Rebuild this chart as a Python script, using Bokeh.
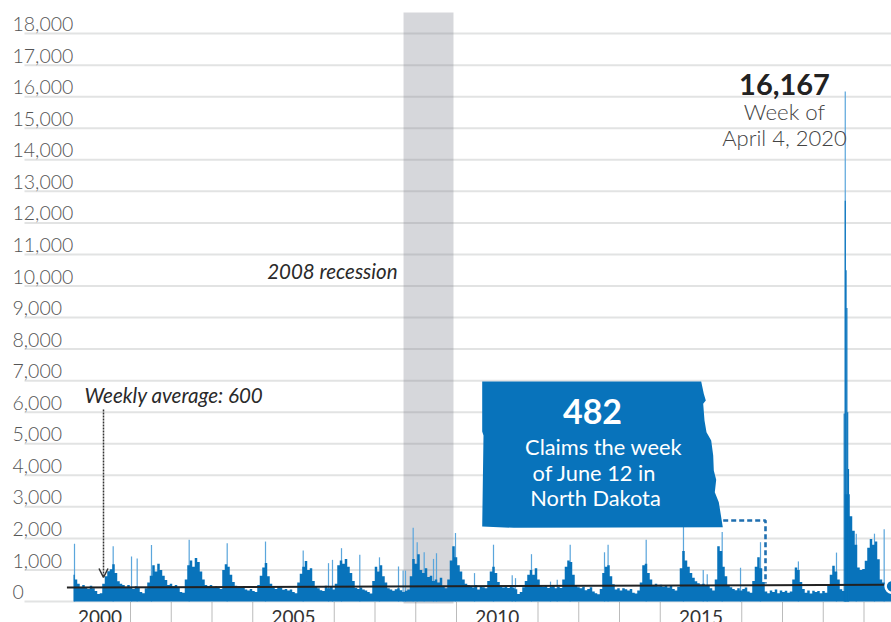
from bokeh.plotting import figure
from bokeh.models import LinearAxis, FixedTicker, Arrow, OpenHead, ColumnDataSource
from bokeh.core.properties import value
from bokeh.embed import file_html
from bokeh.resources import INLINE

# ---- data ----
y_ticks = list(range(0, 19000, 1000))
y_tick_labels = [f"{v:,}" for v in y_ticks]
year_label_positions = [2000.25, 2005, 2010, 2015]
year_labels = ["2000", "2005", "2010", "2015"]
minor_years = [2001, 2002, 2003, 2004, 2006, 2007, 2008, 2009, 2011, 2012, 2013, 2014, 2016, 2017, 2018, 2019]

base_start = 1999.601
base_step = 0.06135
base_values = [
    850, 700, 560, 430, 520, 460, 400, 500, 420, 330, 240, 260, 560, 800, 960, 1020, 1180, 900, 640, 560,
    520, 430, 520, 460, 400, 480, 430, 300, 260, 420, 600, 820, 1150, 950, 1200, 1000, 820, 680, 520, 560,
    480, 520, 440, 300, 280, 700, 1150, 1300, 1100, 1380, 1250, 950, 700, 520, 480, 520, 430, 480, 440, 400,
    1000, 1180, 1100, 850, 620, 500, 470, 430, 450, 380, 350, 400, 330, 300, 520, 820, 1080, 1220, 800, 560,
    450, 400, 480, 440, 370, 400, 350, 380, 300, 260, 600, 880, 1100, 1280, 1000, 1050, 650, 480, 420, 360,
    330, 500, 420, 470, 380, 560, 1150, 1300, 1200, 1350, 1100, 900, 650, 430, 400, 440, 380, 350, 300, 250,
    650, 1100, 950, 1150, 800, 600, 420, 380, 340, 390, 420, 360, 300, 340, 380, 800, 1350, 1200, 1500, 1000,
    900, 1050, 780, 820, 650, 700, 600, 750, 500, 420, 700, 1300, 1750, 1400, 1150, 950, 700, 560, 520, 480,
    440, 520, 380, 470, 450, 420, 650, 950, 1100, 900, 620, 500, 440, 470, 430, 480, 440, 390, 240, 300,
    450, 650, 850, 1000, 850, 1050, 700, 520, 470, 500, 430, 470, 500, 420, 470, 430, 700, 1100, 1300, 1250,
    850, 520, 450, 420, 470, 360, 400, 450, 320, 260, 230, 400, 900, 1100, 1150, 800, 550, 380, 420, 350,
    420, 390, 350, 400, 280, 250, 350, 600, 1150, 1200, 900, 700, 520, 560, 480, 530, 470, 520, 440, 500,
    400, 350, 470, 1050, 1600, 1300, 1100, 900, 750, 640, 580, 540, 560, 500, 520, 420, 350, 700, 1750, 1600,
    1100, 800, 520, 450, 400, 360, 420, 350, 400, 440, 320, 280, 650, 1100, 1400, 1050, 620, 320, 260, 350,
    300, 380, 260, 350, 300, 340, 280, 320, 700, 1080, 1000, 620, 400, 280, 350, 250, 340, 300, 330, 260,
    330, 280, 520, 850, 1130, 950, 700, 390, 330, 3400, 3400, 2700, 2240, 1800, 1080, 1000, 1030, 1290, 1700, 1980,
    1800, 1900, 1340, 700, 600, 500, 450, 450,
]

spike_years = [
    1999.626, 2000.575, 2001.025, 2001.164, 2001.515, 2002.44, 2003.373, 2004.313,
    2005.238, 2005.859, 2005.957, 2006.178, 2006.627, 2007.11, 2007.577, 2007.69,
    2007.748, 2007.937, 2008.035, 2008.207, 2008.436, 2008.509, 2008.975, 2009.442,
    2009.908, 2010.367, 2010.448, 2010.84, 2011.307, 2011.472, 2011.79, 2012.632,
    2012.72, 2013.655, 2014.57, 2015.055, 2015.153, 2015.52, 2015.97, 2016.46,
    2017.39, 2018.325, 2018.54, 2018.81, 2019.257, 2019.495,
]
spike_values = [
    1830, 1750, 1430, 1360, 1790, 1960, 1850, 1900,
    1620, 1215, 1320, 1690, 1480, 1400, 1110, 980,
    980, 2340, 1880, 1560, 1350, 1530, 2170, 900,
    1800, 830, 740, 1500, 630, 690, 1800, 1560,
    1800, 1955, 2400, 1000, 860, 2200, 1070, 1880,
    1270, 1550, 16167, 2150, 2150, 2290,
]

surge_years = [2018.514, 2018.54, 2018.56, 2018.58, 2018.60, 2018.62]
surge_values = [5960, 12700, 10500, 9300, 6000, 4200]

recession_years = [2007.70, 2008.926]
average_years = [1999.44, 2019.49]
average_values = [440, 530]
current_year = 2019.69
current_value = 482

# ---- pixel helpers for hand-placed annotation ----
def X(px):
    return 2001 + (px - 130) / 40.75

def Y(py):
    return (601 - py) / 31.55 * 1000

BLUE = "#0873BB"
SPIKE = "#5BA6DC"
FONT = value("Lato")
LIGHT = value("Lato Light")
BASE_SHIFT = -0.41

p = figure(width=891, height=622, x_range=(X(0), X(891)), y_range=(Y(622), Y(0)),
           x_axis_type=None, y_axis_type=None, toolbar_location=None,
           output_backend="svg", min_border=0, outline_line_color=None,
           background_fill_color="white", border_fill_color="white")
p.grid.visible = False

# gridlines
p.segment(x0=[X(24)] * len(y_ticks), x1=[X(891)] * len(y_ticks), y0=y_ticks, y1=y_ticks,
          line_color="#e2e3e3", line_width=2)

# recession band
p.quad(left=recession_years[0], right=recession_years[1], bottom=Y(603), top=Y(12),
       fill_color="#7a7f8c", fill_alpha=0.31, line_color=None)

# year ticks
p.segment(x0=minor_years, x1=minor_years, y0=[Y(602)] * len(minor_years), y1=[Y(622)] * len(minor_years),
          line_color="#777777", line_width=1, line_dash="1 1")

# series
spike_src = ColumnDataSource(dict(x=spike_years, top=spike_values))
p.vbar(x="x", top="top", bottom=0, width=0.03, source=spike_src, fill_color=SPIKE, line_color=None)
base_x = [base_start + i * base_step for i in range(len(base_values))]
p.varea_step(x=base_x, y1=[0] * len(base_values), y2=base_values, step_mode="center", fill_color=BLUE)
p.vbar(x=surge_years, top=surge_values, bottom=0, width=0.028, fill_color=BLUE, line_color=None)

# average line
p.line(average_years, average_values, line_color="#222222", line_width=2)

# Weekly-average arrow
p.add_layout(Arrow(end=OpenHead(size=9, line_color="#333333", line_width=1.5),
                   x_start=X(103), y_start=Y(409), x_end=X(103), y_end=Y(577),
                   line_color="#333333", line_width=1.5, line_dash="2 1"))

# North Dakota shape
nd_px = [481.7, 700.7, 703.3, 705.3, 702.7, 704, 706, 710.7, 712.7, 713.3, 715.7, 714.3, 718.3, 722.3, 513.3, 481.7, 483, 481.7]
nd_py = [381, 381, 393.3, 400, 403.3, 420, 431.7, 440, 455, 470, 479.3, 491.7, 501.7, 526.7, 527.3, 526, 435, 431]
p.patch([X(v) for v in nd_px], [Y(v) for v in nd_py], fill_color=BLUE, line_color=None)

# dashed connector
p.line([X(722.7), X(765), X(765)], [Y(520), Y(520), Y(583)], line_color="#1F6FB0",
       line_width=2.6, line_dash="5 3")

# current-week marker
p.scatter([current_year], [current_value], size=13, fill_color=BLUE, line_color="white", line_width=2.5)

def txt(px, py, s, size, color, font=FONT, align="center", style="normal"):
    p.text([X(px)], [Y(py)], text=[s], text_font=font, text_font_size=f"{size}px", text_color=color,
           text_align=align, text_baseline="alphabetic", text_font_style=style,
           y_offset=BASE_SHIFT * size)

txt(784, 96, "16,167", 29, "#222222", style="bold")
txt(784, 120, "Week of", 22.3, "#444444", LIGHT)
txt(784, 146, "April 4, 2020", 22, "#444444", LIGHT)
txt(397, 279, "2008 recession", 20.5, "#2a2a2a", align="right", style="italic")
txt(84, 403, "Weekly average: 600", 20.6, "#2a2a2a", align="left", style="italic")
txt(592, 425, "482", 34, "white", style="bold")
txt(603, 455, "Claims the week", 21.8, "white")
txt(594, 481, "of June 12 in", 21.8, "white")
txt(595, 506, "North Dakota", 21.8, "white")

# y tick labels sit left-aligned on their gridlines
p.text(x=[X(12)] * len(y_ticks), y=[v + 45 for v in y_ticks], text=y_tick_labels,
       text_font=LIGHT, text_font_size="19.5px", text_color="#555555",
       text_align="left", text_baseline="alphabetic", y_offset=BASE_SHIFT * 19.5)

# x axis labels
xax = LinearAxis(ticker=FixedTicker(ticks=year_label_positions),
                 major_label_overrides=dict(zip(year_label_positions, year_labels)),
                 fixed_location=Y(603), axis_line_color=None, major_tick_line_color=None,
                 minor_tick_line_color=None, major_label_standoff=0,
                 major_label_text_font="Lato", major_label_text_font_size="19px",
                 major_label_text_color="#333333")
p.add_layout(xax, "below")

open("out.html", "w").write(file_html(p, INLINE))
